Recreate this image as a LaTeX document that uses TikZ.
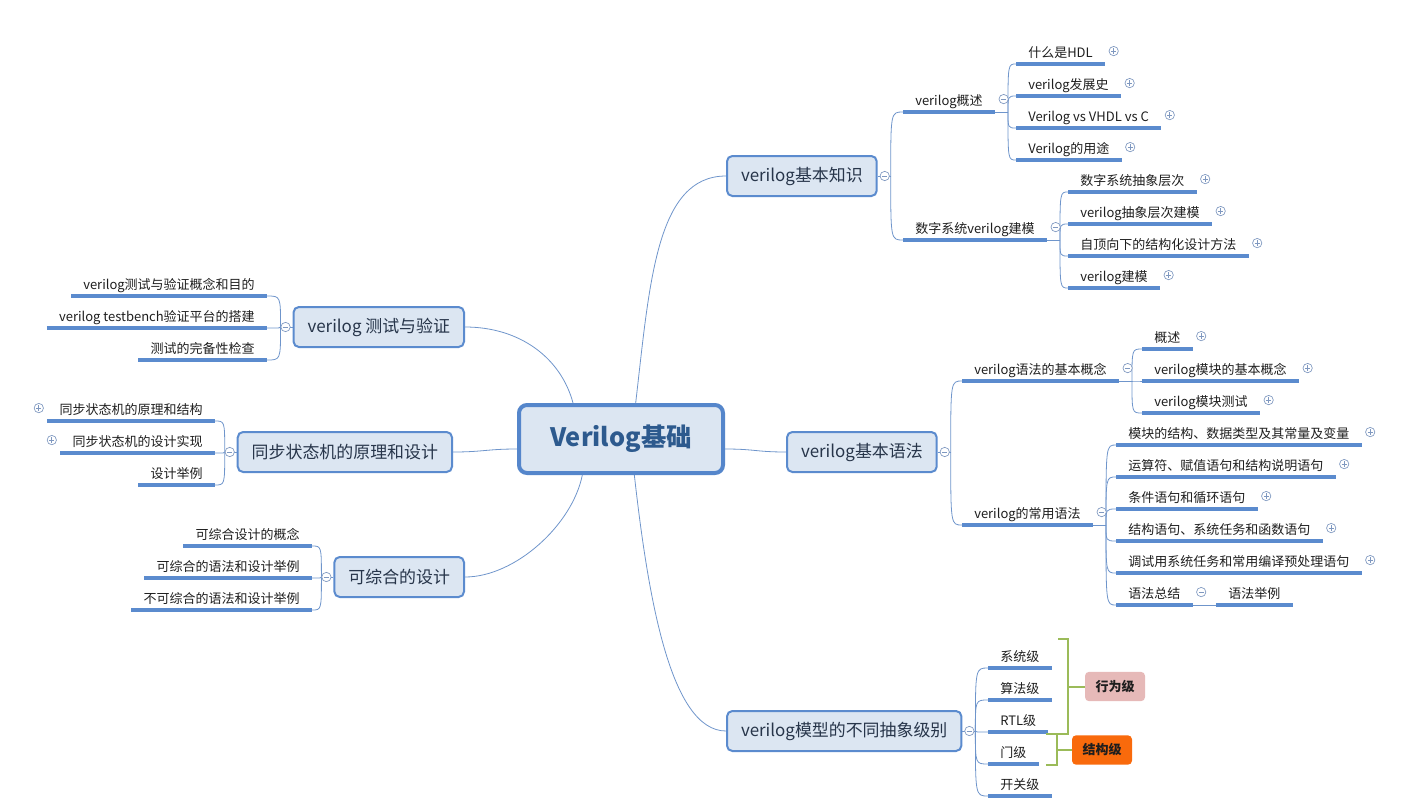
\documentclass[tikz,border=0pt]{standalone}
\usepackage{fontspec}
\setmainfont{Noto Sans CJK SC}
\usetikzlibrary{positioning, calc}

\definecolor{boxfill}{HTML}{DCE6F2}
\definecolor{boxline}{HTML}{5B8BCE}
\definecolor{rootline}{HTML}{5586CB}
\definecolor{roottext}{HTML}{2D5A8E}
\definecolor{boxtext}{HTML}{27354A}
\definecolor{textc}{HTML}{1E1E1E}
\definecolor{linkc}{HTML}{6F95CB}
\definecolor{ulinec}{HTML}{5B8BCE}
\definecolor{knobc}{HTML}{7F98C0}
\definecolor{bracec}{HTML}{9BBB59}
\definecolor{xwfill}{HTML}{E6B9B8}
\definecolor{jgfill}{HTML}{F96A0C}

\begin{document}
\begin{tikzpicture}[
    x=0.75pt, y=0.75pt,
    root/.style={draw=rootline, line width=3pt, fill=boxfill, rounded corners=6pt, minimum width=153pt, minimum height=51pt, font=\fontsize{19}{23}\selectfont\bfseries, text=roottext},
    topic/.style={draw=boxline, line width=1.5pt, fill=boxfill, rounded corners=4pt, minimum height=30pt, inner xsep=10.5pt, font=\fontsize{12.7}{15}\selectfont, text=boxtext},
    uline/.style={draw=ulinec, line width=2.6pt},
    leaf/.style={font=\fontsize{9.75}{12}\selectfont, text=textc, inner xsep=9pt, inner ysep=2pt, text height=7.5pt, text depth=3pt,
        append after command={(\tikzlastnode.south west) edge[uline] (\tikzlastnode.south east)}},
    rleaf/.style={leaf, anchor=south west},
    lleaf/.style={leaf, anchor=south east},
    link/.style={draw=linkc, line width=0.6pt},
    brace/.style={draw=bracec, line width=1.5pt},
    tag/.style={rounded corners=3pt, minimum width=45pt, minimum height=22pt, font=\fontsize{9.75}{12}\selectfont\bfseries, text=textc},
    knob/.style={circle, draw=knobc, fill=white, line width=0.5pt, minimum size=7pt, inner sep=0pt},
    openknob/.style={knob, path picture={\draw[knobc, line width=0.6pt]
        ([xshift=-2pt]path picture bounding box.center) -- ([xshift=2pt]path picture bounding box.center)
        ([yshift=-2pt]path picture bounding box.center) -- ([yshift=2pt]path picture bounding box.center);}},
    foldknob/.style={knob, path picture={\draw[knobc, line width=0.6pt]
        ([xshift=-2pt]path picture bounding box.center) -- ([xshift=2pt]path picture bounding box.center);}}
]
    \useasboundingbox (0,0) rectangle (1403,-807);

    % Centre
    \node[root] (root) at (621,-439) {Verilog基础};

    % Main topics
    \node[topic, anchor=west] (kn) at (726,-176) {verilog基本知识};
    \node[topic, anchor=west] (syn) at (786,-452) {verilog基本语法};
    \node[topic, anchor=west] (lv) at (726,-731) {verilog模型的不同抽象级别};
    \node[topic, anchor=east] (tv) at (465,-327) {verilog 测试与验证};
    \node[topic, anchor=east] (sm) at (453,-452) {同步状态机的原理和设计};
    \node[topic, anchor=east] (cs) at (465,-577) {可综合的设计};

    \draw[link] ([xshift=11pt]root.north) .. controls +(14,120) and +(-70,0) .. (kn.west);
    \draw[link] ([yshift=-7.5pt]root.east) .. controls +(30,0) and +(-30,0) .. (syn.west);
    \draw[link] ([xshift=10pt]root.south) .. controls +(14,-125) and +(-55,0) .. (lv.west);
    \draw[link] ([xshift=-36pt]root.north) .. controls +(-12,45) and +(55,0) .. (tv.east);
    \draw[link] ([yshift=-7.5pt]root.west) .. controls +(-30,0) and +(30,0) .. (sm.east);
    \draw[link] ([xshift=-29pt]root.south) .. controls +(-10,-50) and +(50,0) .. (cs.east);

    % verilog基本知识
    \node[rleaf] (ov) at (903,-112) {verilog概述};
    \node[rleaf] (dm) at (903,-240) {数字系统verilog建模};
    \node[rleaf] (ov1) at (1016,-64) {什么是HDL};
    \node[rleaf] (ov2) at (1016,-96) {verilog发展史};
    \node[rleaf] (ov3) at (1016,-128) {Verilog vs VHDL vs C};
    \node[rleaf] (ov4) at (1016,-160) {Verilog的用途};
    \node[rleaf] (dm1) at (1068,-192) {数字系统抽象层次};
    \node[rleaf] (dm2) at (1068,-224) {verilog抽象层次建模};
    \node[rleaf] (dm3) at (1068,-256) {自顶向下的结构化设计方法};
    \node[rleaf] (dm4) at (1068,-288) {verilog建模};

    \coordinate (kn-j) at ([xshift=9.75pt]kn.east);
    \coordinate (ov-j) at ([xshift=9.75pt]ov.south east);
    \coordinate (dm-j) at ([xshift=9.75pt]dm.south east);
    \draw[link] (kn.east) -- (kn-j);
    \draw[link] (ov.south east) -- (ov-j);
    \draw[link] (dm.south east) -- (dm-j);
    \foreach \c in {ov,dm}
        \draw[link] (kn-j) .. controls (kn-j |- \c.south west) .. (\c.south west);
    \foreach \c in {ov1,ov2,ov3,ov4}
        \draw[link] (ov-j) .. controls (ov-j |- \c.south west) .. (\c.south west);
    \foreach \c in {dm1,dm2,dm3,dm4}
        \draw[link] (dm-j) .. controls (dm-j |- \c.south west) .. (\c.south west);

    \node[foldknob] (kn-k) at ([xshift=5.25pt]kn.east) {};
    \node[foldknob] (ov-k) at ([xshift=6.5pt,yshift=4.5pt]ov.base east) {};
    \node[foldknob] (dm-k) at ([xshift=6.5pt,yshift=4.5pt]dm.base east) {};
    \foreach \c in {ov1,ov2,ov3,ov4,dm1,dm2,dm3,dm4}
        \node[openknob] (\c-k) at ([xshift=6.5pt,yshift=4.5pt]\c.base east) {};

    % verilog基本语法
    \node[rleaf] (bc) at (962,-381) {verilog语法的基本概念};
    \node[rleaf] (cu) at (962,-525) {verilog的常用语法};
    \node[rleaf] (bc1) at (1142,-349) {概述};
    \node[rleaf] (bc2) at (1142,-381) {verilog模块的基本概念};
    \node[rleaf] (bc3) at (1142,-413) {verilog模块测试};
    \node[rleaf] (cu1) at (1116,-445) {模块的结构、数据类型及其常量及变量};
    \node[rleaf] (cu2) at (1116,-477) {运算符、赋值语句和结构说明语句};
    \node[rleaf] (cu3) at (1116,-509) {条件语句和循环语句};
    \node[rleaf] (cu4) at (1116,-541) {结构语句、系统任务和函数语句};
    \node[rleaf] (cu5) at (1116,-573) {调试用系统任务和常用编译预处理语句};
    \node[rleaf] (cu6) at (1116,-605) {语法总结};
    \node[rleaf] (ex) at (1216,-605) {语法举例};

    \coordinate (syn-j) at ([xshift=9.75pt]syn.east);
    \coordinate (bc-j) at ([xshift=9.75pt]bc.south east);
    \coordinate (cu-j) at ([xshift=9.75pt]cu.south east);
    \draw[link] (syn.east) -- (syn-j);
    \draw[link] (bc.south east) -- (bc-j);
    \draw[link] (cu.south east) -- (cu-j);
    \draw[link] (cu6.south east) -- (ex.south west);
    \foreach \c in {bc,cu}
        \draw[link] (syn-j) .. controls (syn-j |- \c.south west) .. (\c.south west);
    \foreach \c in {bc1,bc2,bc3}
        \draw[link] (bc-j) .. controls (bc-j |- \c.south west) .. (\c.south west);
    \foreach \c in {cu1,cu2,cu3,cu4,cu5,cu6}
        \draw[link] (cu-j) .. controls (cu-j |- \c.south west) .. (\c.south west);

    \node[foldknob] (syn-k) at ([xshift=5.25pt]syn.east) {};
    \foreach \c in {bc,cu,cu6}
        \node[foldknob] (\c-k) at ([xshift=6.5pt,yshift=4.5pt]\c.base east) {};
    \foreach \c in {bc1,bc2,bc3,cu1,cu2,cu3,cu4,cu5}
        \node[openknob] (\c-k) at ([xshift=6.5pt,yshift=4.5pt]\c.base east) {};

    % verilog模型的不同抽象级别
    \node[rleaf] (l1) at (988,-668) {系统级};
    \node[rleaf] (l2) at (988,-700) {算法级};
    \node[rleaf] (l3) at (988,-732) {RTL级};
    \node[rleaf] (l4) at (988,-764) {门级};
    \node[rleaf] (l5) at (988,-796) {开关级};

    \coordinate (lv-j) at ([xshift=9.75pt]lv.east);
    \draw[link] (lv.east) -- (lv-j);
    \foreach \c in {l1,l2,l3,l4,l5}
        \draw[link] (lv-j) .. controls (lv-j |- \c.south west) .. (\c.south west);
    \node[foldknob] (lv-k) at ([xshift=5.25pt]lv.east) {};

    \node[tag, fill=xwfill] (xw) at (1115,-686.5) {行为级};
    \node[tag, fill=jgfill] (jg) at (1102,-750) {结构级};

    \coordinate (xw-t) at (1058,-639);
    \coordinate (xw-b) at (1046,-734);
    \coordinate (xw-m) at (1068,-686.5);
    \draw[brace] (xw-t) -- (xw-t -| xw-m) -- (xw-b -| xw-m) -- (xw-b);
    \draw[brace] (xw-m) -- (xw.west);
    \coordinate (jg-t) at (1046,-734);
    \coordinate (jg-b) at (1046,-765);
    \coordinate (jg-m) at (1057,-750);
    \draw[brace] (jg-t) -- (jg-t -| jg-m) -- (jg-b -| jg-m) -- (jg-b);
    \draw[brace] (jg-m) -- (jg.west);

    % verilog 测试与验证
    \node[lleaf] (tv1) at (267,-296) {verilog测试与验证概念和目的};
    \node[lleaf] (tv2) at (267,-328) {verilog testbench验证平台的搭建};
    \node[lleaf] (tv3) at (267,-360) {测试的完备性检查};

    % 同步状态机的原理和设计
    \node[lleaf] (sm1) at (215,-421) {同步状态机的原理和结构};
    \node[lleaf] (sm2) at (215,-453) {同步状态机的设计实现};
    \node[lleaf] (sm3) at (215,-485) {设计举例};

    % 可综合的设计
    \node[lleaf] (cs1) at (312,-546) {可综合设计的概念};
    \node[lleaf] (cs2) at (312,-578) {可综合的语法和设计举例};
    \node[lleaf] (cs3) at (312,-610) {不可综合的语法和设计举例};

    \coordinate (tv-j) at ([xshift=-9pt]tv.west);
    \coordinate (sm-j) at ([xshift=-9pt]sm.west);
    \coordinate (cs-j) at ([xshift=-9pt]cs.west);
    \draw[link] (tv.west) -- (tv-j);
    \draw[link] (sm.west) -- (sm-j);
    \draw[link] (cs.west) -- (cs-j);
    \foreach \c in {tv1,tv2,tv3}
        \draw[link] (tv-j) .. controls (tv-j |- \c.south east) .. (\c.south east);
    \foreach \c in {sm1,sm2,sm3}
        \draw[link] (sm-j) .. controls (sm-j |- \c.south east) .. (\c.south east);
    \foreach \c in {cs1,cs2,cs3}
        \draw[link] (cs-j) .. controls (cs-j |- \c.south east) .. (\c.south east);

    \foreach \c in {tv,sm,cs}
        \node[foldknob] (\c-k) at ([xshift=-5.25pt]\c.west) {};
    \foreach \c in {sm1,sm2}
        \node[openknob] (\c-k) at ([xshift=-6.5pt,yshift=4.5pt]\c.base west) {};

\end{tikzpicture}
\end{document}
